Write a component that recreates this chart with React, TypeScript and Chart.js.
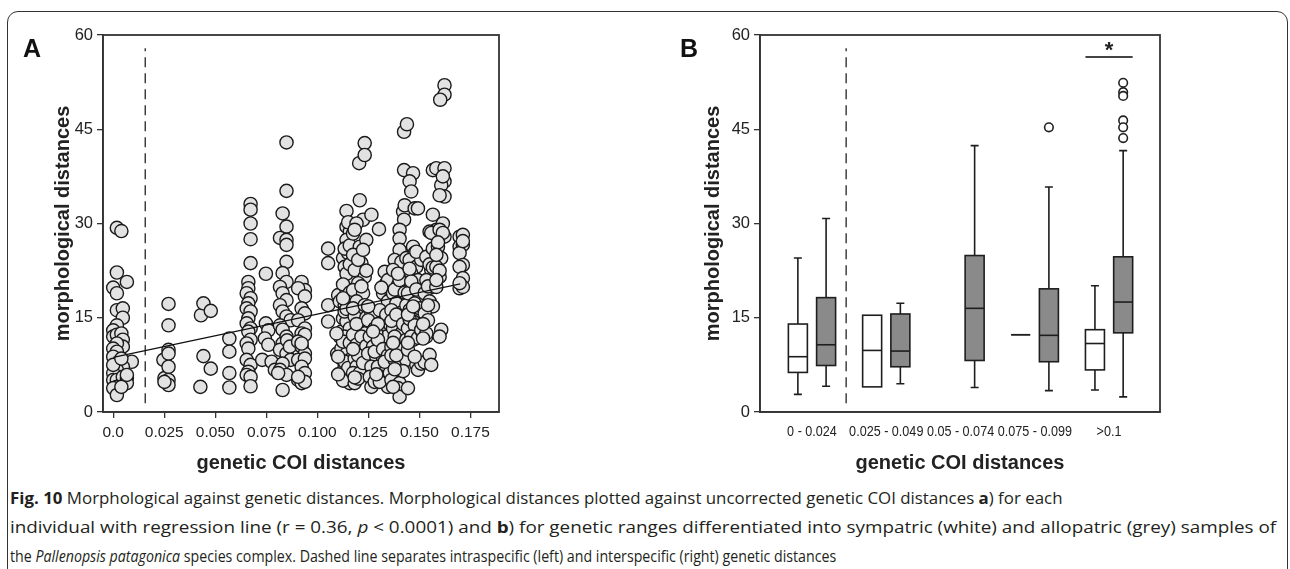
import React, { useEffect, useLayoutEffect, useRef } from "react";
import { Chart, registerables } from "chart.js";
Chart.register(...registerables);

// ---------- Panel A data ----------
const xTicksA = [0, 0.025, 0.05, 0.075, 0.1, 0.125, 0.15, 0.175];
const xTickLabelsA = ["0.0", "0.025", "0.050", "0.075", "0.100", "0.125", "0.150", "0.175"];
const yTicks = [0, 15, 30, 45, 60];

const ptsIntra = [
  [0.0018, 29.3], [0.004, 28.8], [0.0018, 22.2], [0.0, 19.8], [0.0018, 18.9], [0.0067, 20.7],
  [0.0018, 16.2], [0.0047, 16.5], [0.0047, 15.0], [0.0018, 13.8], [0.0, 13.0], [0.0, 12.0],
  [0.0018, 12.3], [0.004, 12.5], [0.0047, 11.5], [0.0047, 10.4], [0.0018, 10.9], [0.0, 10.1],
  [0.0018, 9.6], [0.0, 8.8], [0.0091, 8.0], [0.0047, 7.2], [0.0018, 6.7], [0.0, 6.2],
  [0.0, 5.1], [0.0018, 5.1], [0.0047, 5.6], [0.0067, 5.4], [0.0067, 4.6], [0.0018, 4.0],
  [0.0, 3.8], [0.0018, 2.7], [0.004, 4.0], [0.0067, 5.9], [0.0, 7.5], [0.004, 8.5],
];
const pts025 = [
  [0.0246, 8.3], [0.0251, 5.4], [0.0271, 17.2], [0.0271, 13.8], [0.0271, 9.9], [0.0271, 9.3],
  [0.0271, 7.2], [0.0271, 5.1], [0.0271, 4.3], [0.0251, 4.8],
];
const pts045 = [[0.043, 15.4], [0.0442, 17.3], [0.0478, 16.1], [0.0442, 8.9], [0.0478, 6.9], [0.0427, 4.0]];
const pts057 = [[0.0569, 11.7], [0.0569, 9.6], [0.0569, 6.2], [0.0569, 3.9]];
const pts066 = [
  [0.0673, 33.1], [0.0673, 32.2], [0.0673, 30.0], [0.0673, 27.5], [0.0673, 23.7], [0.0662, 20.7],
  [0.0662, 19.7], [0.0654, 18.9], [0.0673, 18.1], [0.0662, 17.3], [0.0654, 16.5], [0.0673, 16.0],
  [0.0662, 14.9], [0.0654, 14.1], [0.0673, 13.3], [0.0662, 12.8], [0.0673, 11.5], [0.0654, 10.9],
  [0.0662, 10.1], [0.0654, 8.3], [0.0673, 7.5], [0.0662, 6.4], [0.0654, 5.9], [0.0673, 5.6], [0.0673, 4.1],
];
const pts075 = [
  [0.0748, 22.0], [0.073, 8.3], [0.0748, 14.1], [0.076, 13.0], [0.0743, 11.7], [0.076, 10.7],
  [0.0776, 8.0], [0.0792, 6.7],
];
const pts085 = [
  [0.0849, 42.9], [0.0849, 35.2], [0.083, 31.6], [0.0849, 29.5], [0.0817, 27.7], [0.0849, 27.4],
  [0.0849, 26.6], [0.0849, 23.9], [0.083, 22.1], [0.0849, 20.7], [0.0817, 19.9], [0.083, 18.9],
  [0.0849, 17.8], [0.0817, 17.0], [0.083, 16.0], [0.0849, 15.2], [0.0869, 14.6], [0.0817, 13.8],
  [0.083, 13.1], [0.0849, 12.0], [0.083, 10.9], [0.0817, 9.9], [0.0849, 9.3], [0.0869, 8.3],
  [0.083, 7.7], [0.0817, 6.7], [0.0849, 5.9], [0.0808, 6.2], [0.083, 3.5], [0.0852, 11.4], [0.0866, 10.4],
];
const pts092 = [
  [0.0923, 20.7], [0.0939, 19.4], [0.0906, 19.7], [0.0939, 18.4], [0.0923, 16.5], [0.0939, 15.7],
  [0.0906, 14.6], [0.0939, 13.3], [0.0923, 12.5], [0.0939, 12.3], [0.0906, 11.2], [0.0923, 10.4],
  [0.0939, 9.3], [0.0906, 8.3], [0.0939, 8.5], [0.0923, 7.2], [0.0939, 6.2], [0.0906, 5.1],
  [0.0923, 4.6], [0.0939, 4.8], [0.0906, 5.6], [0.0923, 10.9],
];
const pts105 = [[0.1053, 26.0], [0.1053, 23.7], [0.1053, 17.0], [0.1053, 14.4]];
const pts113 = [
  [0.1097, 9.3], [0.1102, 18.6], [0.111, 17.6], [0.111, 12.0], [0.1118, 8.5], [0.1118, 6.2],
  [0.1118, 10.1], [0.1118, 12.8], [0.1126, 14.9], [0.1126, 24.5], [0.1143, 32.0], [0.1143, 29.5],
  [0.1159, 28.7], [0.1143, 27.4], [0.1151, 25.3], [0.1134, 23.1], [0.1151, 21.3], [0.1143, 19.4],
  [0.1159, 17.8], [0.1134, 17.0], [0.1151, 15.7], [0.1143, 14.4], [0.1159, 13.3], [0.1134, 12.0],
  [0.1151, 10.9], [0.1143, 9.3], [0.1159, 8.3], [0.1134, 7.2], [0.1151, 6.2], [0.1143, 5.4],
  [0.1159, 4.6], [0.1126, 5.0], [0.1134, 26.0], [0.1143, 22.0], [0.1126, 20.3], [0.1134, 16.0],
  [0.1126, 11.2], [0.1134, 8.0], [0.1151, 7.0], [0.1094, 12.5], [0.1102, 8.8], [0.1102, 6.0],
  [0.1151, 30.2], [0.1159, 26.5], [0.1159, 23.5], [0.1159, 19.0], [0.1159, 11.0], [0.1143, 16.4],
  [0.1126, 18.1],
];
const pts120 = [
  [0.1208, 33.7], [0.1205, 39.6], [0.1232, 42.8], [0.1232, 40.9], [0.1224, 30.6], [0.1192, 30.0],
  [0.1175, 28.4], [0.1208, 26.3], [0.124, 27.4], [0.1216, 23.7], [0.1183, 22.6], [0.1232, 21.5],
  [0.12, 20.5], [0.1175, 19.4], [0.1224, 18.9], [0.1192, 17.6], [0.1216, 16.2], [0.1183, 15.2],
  [0.1232, 14.1], [0.12, 13.1], [0.1175, 12.3], [0.1224, 11.7], [0.1192, 10.7], [0.1208, 9.6],
  [0.1183, 8.5], [0.1216, 8.3], [0.1192, 7.2], [0.1175, 6.2], [0.1208, 6.2], [0.1183, 4.6],
  [0.1232, 12.5], [0.1175, 25.0], [0.12, 24.2], [0.1224, 25.8], [0.1183, 29.0], [0.124, 22.5],
  [0.1175, 16.5], [0.1216, 20.0], [0.1232, 17.0], [0.124, 15.0], [0.1192, 14.0], [0.1216, 12.0],
  [0.124, 10.5], [0.12, 9.0], [0.1224, 7.8], [0.12, 5.3], [0.1175, 10.0], [0.1183, 5.5],
];
const pts130 = [
  [0.1302, 29.1], [0.1265, 31.4], [0.1265, 15.7], [0.1249, 14.6], [0.1281, 13.3], [0.1257, 12.0],
  [0.1273, 10.4], [0.1249, 9.3], [0.1289, 8.8], [0.1265, 7.2], [0.1257, 5.6], [0.1265, 4.0],
  [0.1281, 4.8], [0.133, 22.3], [0.1338, 20.5], [0.1322, 18.9], [0.1346, 17.6], [0.1306, 16.2],
  [0.133, 14.6], [0.1314, 13.1], [0.1338, 12.0], [0.1306, 10.4], [0.1322, 8.3], [0.1297, 7.2],
  [0.1338, 6.7], [0.1314, 5.6], [0.1346, 4.0], [0.1306, 4.8], [0.1355, 6.2], [0.1289, 12.5],
  [0.1281, 9.6], [0.1297, 11.5], [0.1322, 10.0], [0.1346, 9.0], [0.1338, 15.5], [0.1355, 14.0],
  [0.1355, 19.5], [0.1346, 21.0], [0.1314, 19.8], [0.1297, 14.0], [0.1273, 12.8], [0.1289, 6.0],
  [0.1249, 16.8], [0.133, 8.0],
];
const pts140 = [
  [0.1425, 44.6], [0.1439, 45.8], [0.1425, 38.5], [0.142, 31.9], [0.1428, 32.9], [0.1425, 30.6],
  [0.1403, 29.0], [0.1403, 27.6], [0.1403, 25.8], [0.1379, 24.2], [0.1412, 23.9], [0.1371, 22.6],
  [0.142, 21.5], [0.1395, 20.2], [0.1371, 18.9], [0.1412, 18.4], [0.1387, 17.3], [0.1363, 16.2],
  [0.142, 16.0], [0.1395, 14.6], [0.1371, 13.3], [0.1412, 12.5], [0.1387, 11.5], [0.1363, 10.4],
  [0.1403, 9.3], [0.1379, 8.3], [0.1412, 7.5], [0.1387, 6.2], [0.1363, 5.1], [0.1403, 4.6],
  [0.1395, 3.8], [0.1403, 2.4], [0.1371, 4.0], [0.1444, 3.8], [0.1436, 8.3], [0.1379, 19.5],
  [0.1403, 21.0], [0.1428, 19.0], [0.1363, 14.5], [0.1387, 15.5], [0.142, 14.0], [0.1379, 12.0],
  [0.1428, 10.5], [0.1363, 9.0], [0.1395, 10.0], [0.142, 6.5], [0.1379, 6.8], [0.1436, 11.5],
  [0.1436, 17.0], [0.1395, 22.0], [0.1436, 24.5], [0.1387, 9.0], [0.1371, 11.0],
];
const pts147 = [
  [0.1469, 38.0], [0.1452, 36.7], [0.146, 35.1], [0.1477, 32.4], [0.1493, 32.4], [0.1469, 26.3],
  [0.1477, 25.3], [0.1452, 24.2], [0.1485, 23.1], [0.1509, 24.2], [0.146, 22.1], [0.1493, 21.0],
  [0.1469, 19.9], [0.1444, 18.9], [0.1501, 18.4], [0.1477, 17.3], [0.1452, 16.2], [0.1493, 15.4],
  [0.1469, 14.4], [0.1444, 13.3], [0.1485, 12.8], [0.1469, 11.5], [0.1485, 7.5], [0.1493, 6.7],
  [0.1509, 7.7], [0.1526, 7.9], [0.1444, 9.9], [0.146, 20.8], [0.1485, 19.5], [0.1452, 14.8],
  [0.1477, 13.8], [0.1501, 16.5], [0.146, 12.0], [0.1493, 11.8], [0.1509, 13.0], [0.1452, 22.8],
  [0.1485, 25.5], [0.1444, 15.5], [0.1469, 16.8], [0.1444, 11.0], [0.1477, 8.8],
];
const pts155 = [
  [0.1566, 38.5], [0.1583, 38.8], [0.1566, 31.4], [0.1583, 29.0], [0.155, 28.7], [0.1534, 24.7],
  [0.1566, 26.0], [0.1558, 22.6], [0.1534, 21.0], [0.1566, 19.9], [0.1526, 18.9], [0.155, 17.6],
  [0.1566, 16.8], [0.1526, 15.7], [0.1542, 14.6], [0.1509, 13.1], [0.1534, 12.0], [0.155, 9.1],
  [0.1558, 7.5], [0.1534, 12.5], [0.1518, 11.7], [0.1558, 28.5], [0.155, 23.5], [0.1542, 20.0],
  [0.1518, 14.0], [0.1542, 17.0], [0.1566, 23.0],
];
const pts160 = [
  [0.1623, 52.0], [0.1623, 50.5], [0.1602, 49.7], [0.1623, 38.8], [0.1623, 36.7], [0.1607, 36.1],
  [0.1623, 34.3], [0.1599, 34.5], [0.1615, 30.0], [0.1599, 29.0], [0.1623, 27.9], [0.1591, 26.3],
  [0.1607, 24.5], [0.1583, 23.1], [0.1599, 21.5], [0.1583, 19.9], [0.1607, 13.1], [0.1599, 12.0],
  [0.1615, 28.5], [0.1591, 27.0], [0.1583, 25.0], [0.1615, 37.5], [0.1599, 22.5], [0.1583, 21.0],
];
const pts170 = [
  [0.1697, 27.9], [0.1713, 28.2], [0.1697, 26.3], [0.1713, 26.6], [0.1697, 25.3], [0.1713, 23.4],
  [0.1697, 23.1], [0.1713, 21.3], [0.1697, 19.7], [0.1713, 19.9], [0.1697, 20.5], [0.1713, 27.2],
];
const regressionLine = [[0, 8.7], [0.17, 20.4]];
const dashLineA = [[0.0157, 1.4], [0.0157, 57.9]];

// ---------- Panel B data ----------
const groupLabels = ["0 - 0.024", "0.025 - 0.049", "0.05 - 0.074", "0.075 - 0.099", ">0.1"];
// [min, q1, median, q3, max]
const sympatricStats = [
  [2.8, 6.3, 8.8, 14.0, 24.5],
  [4.0, 4.0, 9.8, 15.4, 15.4],
  null,
  [12.3, 12.3, 12.3, 12.3, 12.3],
  [3.5, 6.7, 10.9, 13.1, 20.1],
];
const allopatricStats = [
  [4.1, 7.4, 10.7, 18.2, 30.8],
  [4.5, 7.2, 9.7, 15.6, 17.3],
  [3.9, 8.2, 16.5, 24.9, 42.4],
  [3.4, 8.0, 12.2, 19.6, 35.8],
  [2.4, 12.6, 17.5, 24.7, 41.6],
];
const allopatricOutliers = [[], [], [], [45.3], [52.4, 50.9, 50.3, 46.4, 45.3, 43.6]];
const dashLineB = [[1.46, 1.4], [1.46, 57.9]];
const significanceBar = { group: 5, y: 56.5, label: "*", labelY: 58.2 };

const captionLines = [
  [["b", "Fig. 10"], ["n", " Morphological against genetic distances. Morphological distances plotted against uncorrected genetic COI distances "], ["b", "a"], ["n", ") for each"]],
  [["n", "individual with regression line (r = 0.36, "], ["i", "p"], ["n", " <  0.0001) and "], ["b", "b"], ["n", ") for genetic ranges differentiated into sympatric (white) and allopatric (grey) samples of"]],
  [["n", "the "], ["i", "Pallenopsis patagonica"], ["n", " species complex. Dashed line separates intraspecific (left) and interspecific (right) genetic distances"]],
];
const captionTargetWidths = [1052, 1266, 826];

const SANS = "'Liberation Sans', Arial, sans-serif";
const INK = "#222";

const toXY = (arr: number[][]) => arr.map(([x, y]) => ({ x, y }));

const boxBorder = {
  id: "boxBorder",
  afterDraw(chart: any) {
    const { ctx, chartArea } = chart;
    const { left, top, right, bottom } = chartArea;
    ctx.save();
    ctx.strokeStyle = "#333";
    ctx.lineWidth = 1.8;
    ctx.strokeRect(left, top, right - left, bottom - top);
    ctx.restore();
  },
};

// narrow category labels for panel B, drawn at the x scale's tick positions
const narrowLabels = {
  id: "narrowLabels",
  afterDraw(chart: any) {
    const { ctx } = chart;
    const xs = chart.scales.x;
    ctx.save();
    ctx.fillStyle = INK;
    ctx.font = `15px ${SANS}`;
    ctx.textAlign = "center";
    ctx.textBaseline = "middle";
    xs.ticks.forEach((t: any, i: number) => {
      const x = xs.getPixelForValue(t.value);
      ctx.save();
      ctx.translate(x, xs.top + 20);
      ctx.scale(0.84, 1);
      ctx.fillText(groupLabels[i], 0, 0);
      ctx.restore();
    });
    ctx.restore();
  },
};

const OFFSET = 0.19;

const boxPlugin = {
  id: "boxPlot",
  beforeDatasetsDraw(chart: any) {
    const { ctx } = chart;
    const xs = chart.scales.x;
    const ys = chart.scales.y;
    const half = 9.5;
    const cap = 4;
    const drawBox = (st: number[] | null, xv: number, fill: string) => {
      if (!st) return;
      const [mn, q1, md, q3, mx] = st;
      const cx = xs.getPixelForValue(xv);
      const p = (v: number) => ys.getPixelForValue(v);
      ctx.save();
      ctx.strokeStyle = "#1e1e1e";
      ctx.lineWidth = 1.6;
      ctx.beginPath();
      if (mx > q3) {
        ctx.moveTo(cx, p(q3)); ctx.lineTo(cx, p(mx));
        ctx.moveTo(cx - cap, p(mx)); ctx.lineTo(cx + cap, p(mx));
      }
      if (mn < q1) {
        ctx.moveTo(cx, p(q1)); ctx.lineTo(cx, p(mn));
        ctx.moveTo(cx - cap, p(mn)); ctx.lineTo(cx + cap, p(mn));
      }
      ctx.stroke();
      ctx.fillStyle = fill;
      const y1 = p(q3), y2 = p(q1);
      if (y2 - y1 > 0.5) ctx.fillRect(cx - half, y1, 2 * half, y2 - y1);
      ctx.strokeRect(cx - half, y1, 2 * half, y2 - y1);
      ctx.beginPath();
      ctx.moveTo(cx - half, p(md)); ctx.lineTo(cx + half, p(md));
      ctx.stroke();
      ctx.restore();
    };
    groupLabels.forEach((_, i) => {
      drawBox(sympatricStats[i], i + 1 - OFFSET, "#ffffff");
      drawBox(allopatricStats[i], i + 1 + OFFSET, "#8a8a8a");
    });
    const g = significanceBar.group;
    const xl = xs.getPixelForValue(g - OFFSET) - 9.5;
    const xr = xs.getPixelForValue(g + OFFSET) + 9.5;
    const yb = ys.getPixelForValue(significanceBar.y);
    ctx.save();
    ctx.strokeStyle = "#444";
    ctx.lineWidth = 1.8;
    ctx.beginPath();
    ctx.moveTo(xl, yb); ctx.lineTo(xr, yb);
    ctx.stroke();
    ctx.fillStyle = INK;
    ctx.font = `bold 22px ${SANS}`;
    ctx.textAlign = "center";
    ctx.textBaseline = "middle";
    ctx.fillText(significanceBar.label, xs.getPixelForValue(g), ys.getPixelForValue(significanceBar.labelY) + 5);
    ctx.restore();
  },
};

const yScale = (width: number) => ({
  type: "linear",
  min: 0,
  max: 60,
  afterBuildTicks: (s: any) => { s.ticks = yTicks.map((v) => ({ value: v })); },
  afterFit: (s: any) => { s.width = width; },
  ticks: { font: { family: SANS, size: 16.5 }, color: INK, padding: 4 },
  grid: { drawOnChartArea: false, drawTicks: true, tickLength: 6, color: "#333", lineWidth: 1.3 },
  border: { color: "#333", width: 1.6 },
  title: { display: true, text: "morphological distances", font: { family: SANS, size: 20, weight: "bold" }, color: INK, padding: { top: 51, bottom: 0 } },
});

function Caption() {
  const refs = useRef<(HTMLDivElement | null)[]>([]);
  useLayoutEffect(() => {
    refs.current.forEach((el, i) => {
      if (!el) return;
      const w = el.offsetWidth;
      if (w > 0) el.style.transform = `scaleX(${captionTargetWidths[i] / w})`;
    });
  }, []);
  return (
    <>
      {captionLines.map((parts, li) => (
        <div
          key={li}
          ref={(el) => { refs.current[li] = el; }}
          style={{
            position: "absolute", left: 10, top: 483 + li * 29, whiteSpace: "nowrap", display: "inline-block",
            fontFamily: "'Open Sans', sans-serif", fontSize: 16.5, lineHeight: "29px", color: "#231f20",
            transformOrigin: "0 0",
          }}
        >
          {parts.map(([k, t], i) =>
            k === "b" ? <b key={i} style={{ fontWeight: 700 }}>{t}</b> : k === "i" ? <i key={i}>{t}</i> : <span key={i}>{t}</span>
          )}
        </div>
      ))}
    </>
  );
}

export default function App() {
  const refA = useRef<HTMLCanvasElement>(null);
  const refB = useRef<HTMLCanvasElement>(null);

  useEffect(() => {
    const allPoints = [
      ...ptsIntra, ...pts025, ...pts045, ...pts057, ...pts066, ...pts075, ...pts085, ...pts092,
      ...pts105, ...pts113, ...pts120, ...pts130, ...pts140, ...pts147, ...pts155, ...pts160, ...pts170,
    ];
    const chartA = new Chart(refA.current as HTMLCanvasElement, {
      type: "scatter",
      data: {
        datasets: [
          { type: "line", data: toXY(regressionLine), borderColor: "#111", borderWidth: 1.3, pointRadius: 0, order: 0 } as any,
          { type: "line", data: toXY(dashLineA), borderColor: "#333", borderWidth: 1.4, borderDash: [10, 6], pointRadius: 0, order: 0 } as any,
          { data: toXY(allPoints), backgroundColor: "#e2e2e2", borderColor: "#1a1a1a", borderWidth: 1.4, pointRadius: 6.6, order: 1 },
        ],
      },
      options: {
        responsive: false,
        animation: false,
        layout: { padding: { left: 0, top: 35, right: 151, bottom: 3 } },
        plugins: { legend: { display: false }, tooltip: { enabled: false } },
        scales: {
          x: {
            type: "linear",
            min: -0.005,
            max: 0.189,
            afterBuildTicks: (s: any) => { s.ticks = xTicksA.map((v) => ({ value: v })); },
            afterFit: (s: any) => { s.height = 65; },
            ticks: { callback: (_v: any, i: number) => xTickLabelsA[i], font: { family: SANS, size: 15.5 }, color: INK, padding: 5, maxRotation: 0, autoSkip: false },
            grid: { drawOnChartArea: false, drawTicks: true, tickLength: 6, color: "#333", lineWidth: 1.3 },
            border: { color: "#333", width: 1.6 },
            title: { display: true, text: "genetic COI distances", font: { family: SANS, size: 20, weight: "bold" }, color: INK, padding: { top: 0, bottom: 2 } },
          },
          y: yScale(103) as any,
        },
      },
      plugins: [boxBorder],
    } as any);

    const outlierPts: number[][] = [];
    allopatricOutliers.forEach((arr, i) => arr.forEach((v) => outlierPts.push([i + 1 + OFFSET, v])));

    const chartB = new Chart(refB.current as HTMLCanvasElement, {
      type: "scatter",
      data: {
        datasets: [
          { data: toXY(outlierPts), backgroundColor: "#ffffff", borderColor: "#222", borderWidth: 1.6, pointRadius: 4.3 },
          { type: "line", data: toXY(dashLineB), borderColor: "#333", borderWidth: 1.4, borderDash: [10, 6], pointRadius: 0 } as any,
        ],
      },
      options: {
        responsive: false,
        animation: false,
        layout: { padding: { left: 0, top: 35, right: 130, bottom: 3 } },
        plugins: { legend: { display: false }, tooltip: { enabled: false } },
        scales: {
          x: {
            type: "linear",
            min: 0.3,
            max: 5.686,
            afterBuildTicks: (s: any) => { s.ticks = groupLabels.map((_, i) => ({ value: i + 1 })); },
            afterFit: (s: any) => { s.height = 65; },
            ticks: { display: false },
            grid: { drawOnChartArea: false, drawTicks: false },
            border: { color: "#333", width: 1.6 },
            title: { display: true, text: "genetic COI distances", font: { family: SANS, size: 20, weight: "bold" }, color: INK, padding: { top: 0, bottom: 2 } },
          },
          y: yScale(110) as any,
        },
      },
      plugins: [boxPlugin, boxBorder, narrowLabels],
    } as any);

    return () => {
      chartA.destroy();
      chartB.destroy();
    };
  }, []);

  return (
    <div style={{ position: "fixed", left: 0, top: 0, width: 1290, height: 569, overflow: "hidden", background: "#fff" }}>
      <div style={{ position: "absolute", left: 7, top: 11, width: 1281, height: 640, border: "1.6px solid #333", borderRadius: 11, boxSizing: "border-box" }} />
      <canvas ref={refA} width={650} height={480} style={{ position: "absolute", left: 0, top: 0, width: 650, height: 480 }} />
      <canvas ref={refB} width={640} height={480} style={{ position: "absolute", left: 650, top: 0, width: 640, height: 480 }} />
      <div style={{ position: "absolute", left: 23, top: 36, fontFamily: SANS, fontWeight: "bold", fontSize: 25, lineHeight: "25px", color: "#111" }}>A</div>
      <div style={{ position: "absolute", left: 680, top: 36, fontFamily: SANS, fontWeight: "bold", fontSize: 25, lineHeight: "25px", color: "#111" }}>B</div>
      <Caption />
    </div>
  );
}
